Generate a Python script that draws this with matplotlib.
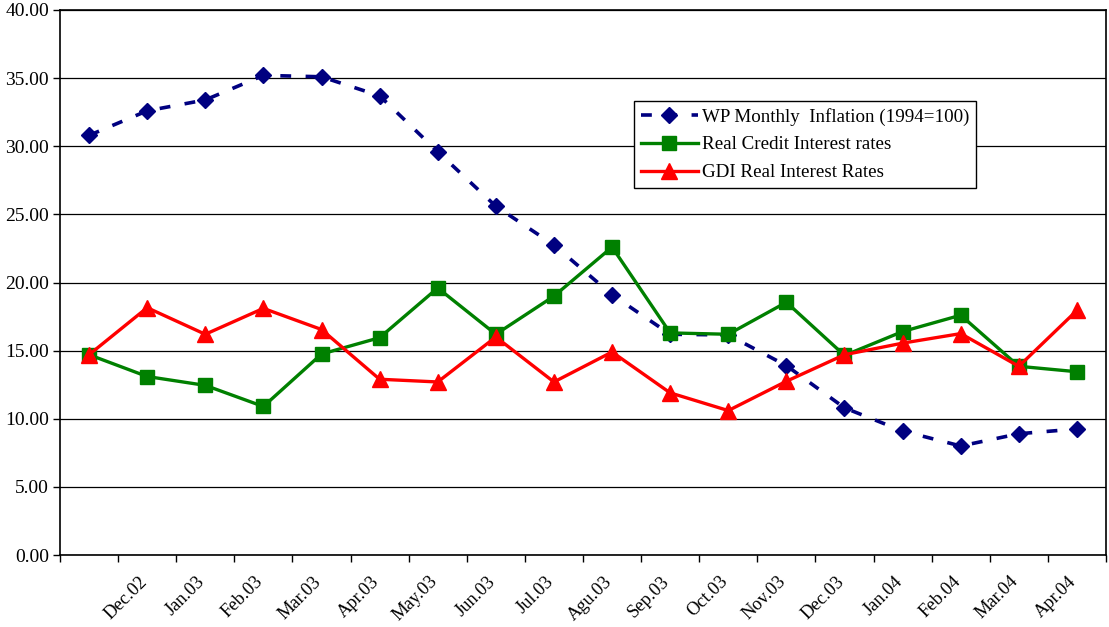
import numpy as np
import matplotlib.pyplot as plt
from matplotlib.ticker import FormatStrFormatter, FixedLocator
from matplotlib.transforms import ScaledTranslation

plt.rcParams['font.family'] = ['Liberation Serif', 'DejaVu Serif']

months = ['', 'Dec.02', 'Jan.03', 'Feb.03', 'Mar.03', 'Apr.03', 'May.03', 'Jun.03',
          'Jul.03', 'Agu.03', 'Sep.03', 'Oct.03', 'Nov.03', 'Dec.03', 'Jan.04',
          'Feb.04', 'Mar.04', 'Apr.04']

wp_inflation = [30.8, 32.6, 33.4, 35.2, 35.1, 33.7, 29.6, 25.6, 22.75, 19.1,
                16.2, 16.15, 13.9, 10.8, 9.1, 8.0, 8.9, 9.25]
real_credit = [14.7, 13.1, 12.45, 10.9, 14.75, 15.95, 19.6, 16.2, 19.0, 22.6,
               16.3, 16.2, 18.55, 14.65, 16.4, 17.6, 13.85, 13.45]
gdi_real = [14.7, 18.15, 16.2, 18.1, 16.55, 12.9, 12.7, 16.0, 12.7, 14.9,
            11.9, 10.6, 12.75, 14.7, 15.55, 16.25, 13.85, 17.95]

x = np.arange(len(months))

fig = plt.figure(figsize=(11.09, 6.27), dpi=100)
ax = fig.add_axes([60 / 1109, 1 - 555 / 627, 1046 / 1109, 545 / 627])

ax.plot(x, wp_inflation, color='#000080', lw=2.6, dashes=(3, 4),
        marker='D', ms=8.5, label='WP Monthly  Inflation (1994=100)', zorder=3)
ax.plot(x, real_credit, color='#008000', lw=2.4, marker='s', ms=10.5,
        label='Real Credit Interest rates', zorder=4)
ax.plot(x, gdi_real, color='#FF0000', lw=2.4, marker='^', ms=11.5,
        label='GDI Real Interest Rates', zorder=5)

ax.set_xlim(-0.5, len(months) - 0.5)
ax.set_ylim(0, 40)
ax.set_yticks(np.arange(0, 41, 5))
ax.yaxis.set_major_formatter(FormatStrFormatter('%.2f'))
ax.yaxis.grid(True, color='black', lw=0.9)
ax.set_axisbelow(True)

# labels sit at category centres, tick marks at the category boundaries
ax.set_xticks(x)
ax.set_xticklabels(months, rotation=45, ha='right', rotation_mode='anchor')
ax.xaxis.set_minor_locator(FixedLocator(np.arange(-0.5, len(months), 1)))
ax.tick_params(axis='x', which='major', length=0, pad=13, labelsize=13.2)
ax.tick_params(axis='x', which='minor', length=5, width=1, direction='out')
ax.tick_params(axis='y', length=5, width=1, direction='out', labelsize=14, pad=3)

shift = ScaledTranslation(-9 / 100, 0, fig.dpi_scale_trans)
for lbl in ax.get_xticklabels():
    lbl.set_transform(lbl.get_transform() + shift)

for s in ax.spines.values():
    s.set_color('black')
    s.set_linewidth(1.2)

leg = ax.legend(loc='upper left', bbox_to_anchor=(0.549, 0.833), borderaxespad=0,
                fancybox=False, framealpha=1, edgecolor='black', fontsize=13.7,
                handlelength=3.0, handletextpad=0.2, labelspacing=0.55,
                borderpad=0.35)
leg.get_frame().set_linewidth(1.0)

fig.savefig('out.png', dpi=100)
